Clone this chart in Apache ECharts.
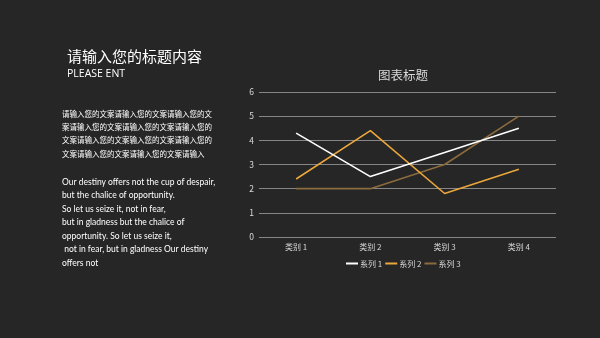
<!DOCTYPE html>
<html><head><meta charset="utf-8">
<script src="https://cdn.jsdelivr.net/npm/echarts@6/dist/echarts.min.js"></script>
<style>html,body{margin:0;padding:0;background:#262626;}#c{width:600px;height:338px;}</style>
</head><body><div id="c"></div>
<script>
const categories = ['类别 1', '类别 2', '类别 3', '类别 4'];
const seriesNames = ['系列 1', '系列 2', '系列 3'];
const series1 = [4.3, 2.5, 3.5, 4.5];
const series2 = [2.4, 4.4, 1.8, 2.8];
const series3 = [2, 2, 3, 5];
const yTicks = [0, 6, 1];
const chartTitle = '图表标题';
const pageTitle = '请输入您的标题内容';
const pageSubtitle = 'PLEASE ENT';
const cnLines = [
  '请输入您的文案请输入您的文案请输入您的文',
  '案请输入您的文案请输入您的文案请输入您的',
  '文案请输入您的文案输入您的文案请输入您的',
  '文案请输入您的文案请输入您的文案请输入'
];
const enLines = [
  'Our destiny offers not the cup of despair,',
  'but the chalice of opportunity.',
  'So let us seize it, not in fear,',
  'but in gladness but the chalice of',
  'opportunity. So let us seize it,',
  ' not in fear, but in gladness Our destiny',
  'offers not'
];
const colors = ['#ffffff', '#eba73c', '#8c6b3c'];

const chart = echarts.init(document.getElementById('c'));
const graphics = [];
graphics.push({type:'text', left:67, top:48.5, style:{text:pageTitle, fill:'#ffffff', font:'15px "Noto Sans CJK SC"'}});
graphics.push({type:'text', left:67, top:69, style:{text:pageSubtitle, fill:'#ffffff', font:'10.5px "Open Sans"'}});
cnLines.forEach((t,i)=>graphics.push({type:'text', left:62, top:110+i*13.4, style:{text:t, fill:'#ffffff', font:'7.5px "Noto Sans CJK SC"'}}));
enLines.forEach((t,i)=>graphics.push({type:'text', left:62, top:177.5+i*13.5, style:{text:t, fill:'#ffffff', font:'8.5px Lato'}}));
graphics.push({type:'text', x:403, y:75, style:{text:chartTitle, fill:'#d9d9d9', font:'12.5px "Noto Sans CJK SC"', textAlign:'center', textVerticalAlign:'middle'}});

const sData = [series1, series2, series3];
chart.setOption({
  backgroundColor:'#262626',
  animation:false,
  color: colors,
  legend:{top:259.5, left:346, padding:0, itemWidth:12, itemHeight:2, itemGap:3, icon:'rect',
    textStyle:{color:'#d9d9d9', fontSize:8, fontFamily:'Noto Sans CJK SC', padding:[0,0,0,-3]}, data:seriesNames},
  grid:{left:259, right:44, top:92, bottom:101, containLabel:false},
  xAxis:{type:'category', data:categories, boundaryGap:true,
    axisLine:{show:false}, axisTick:{show:false},
    axisLabel:{color:'#d9d9d9', fontSize:8, fontFamily:'Noto Sans CJK SC', margin:6}},
  yAxis:{type:'value', min:yTicks[0], max:yTicks[1], interval:yTicks[2],
    axisLine:{show:false}, axisTick:{show:false},
    axisLabel:{color:'#d9d9d9', fontSize:8.5, fontFamily:'Noto Sans CJK SC', margin:5},
    splitLine:{lineStyle:{color:'#868686', width:1.2}}},
  series: sData.map((d,i)=>({name:seriesNames[i], type:'line', data:d, symbol:'none', z: 3-i,
    lineStyle:{width:1.6, color:colors[i]}})),
  graphic: graphics
});
</script></body></html>
